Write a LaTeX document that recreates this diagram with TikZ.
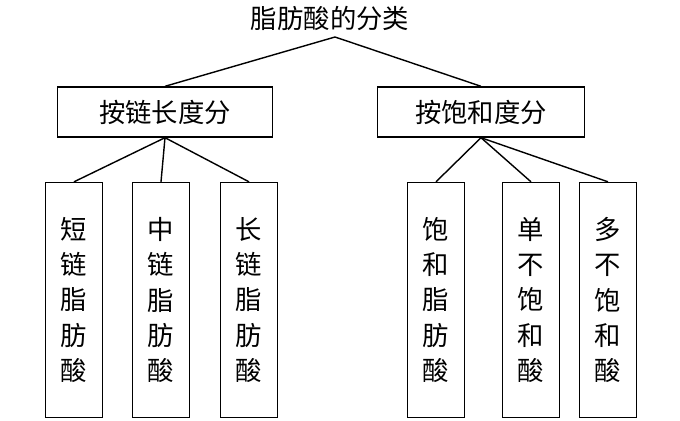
\documentclass[tikz,border=0pt]{standalone}
\usepackage{fontspec}
\newfontfamily\cjk{Noto Sans CJK SC}
\usetikzlibrary{positioning}
\tikzset{
	catbox/.style={draw,thick,minimum width=4.3cm,minimum height=1cm,font=\cjk\fontsize{15}{15}\selectfont},
	leafbox/.style={draw,thick,minimum width=1.14cm,minimum height=4.7cm,align=center,font=\cjk\fontsize{15}{20}\selectfont}
}
\begin{document}
\begin{tikzpicture}[x=0.02cm,y=-0.02cm]
	% page frame
	\useasboundingbox (0,0) rectangle (680,420);
	% title
	\node[font=\cjk\fontsize{15}{15}\selectfont] (title) at (330,18) {脂肪酸的分类};
	\coordinate (top) at (335,37);
	% two groups
	\node[catbox] (len) at (165,112) {按链长度分};
	\node[catbox,minimum width=4.14cm] (sat) at (481,112) {按饱和度分};
	\draw[thick] (top) -- (len.north);
	\draw[thick] (top) -- (sat.north);
	% leaves by chain length
	\node[leafbox] (short) at (74,300) {短\\链\\脂\\肪\\酸};
	\node[leafbox] (mid) at (161,300) {中\\链\\脂\\肪\\酸};
	\node[leafbox] (long) at (249,300) {长\\链\\脂\\肪\\酸};
	\foreach \n in {short,mid,long} {
		\draw[thick] (len.south) -- (\n.north);
	}
	% leaves by saturation
	\node[leafbox] (satd) at (436,300) {饱\\和\\脂\\肪\\酸};
	\node[leafbox] (mono) at (531,300) {单\\不\\饱\\和\\酸};
	\node[leafbox] (poly) at (608,300) {多\\不\\饱\\和\\酸};
	\foreach \n in {satd,mono,poly} {
		\draw[thick] (sat.south) -- (\n.north);
	}
\end{tikzpicture}
\end{document}
